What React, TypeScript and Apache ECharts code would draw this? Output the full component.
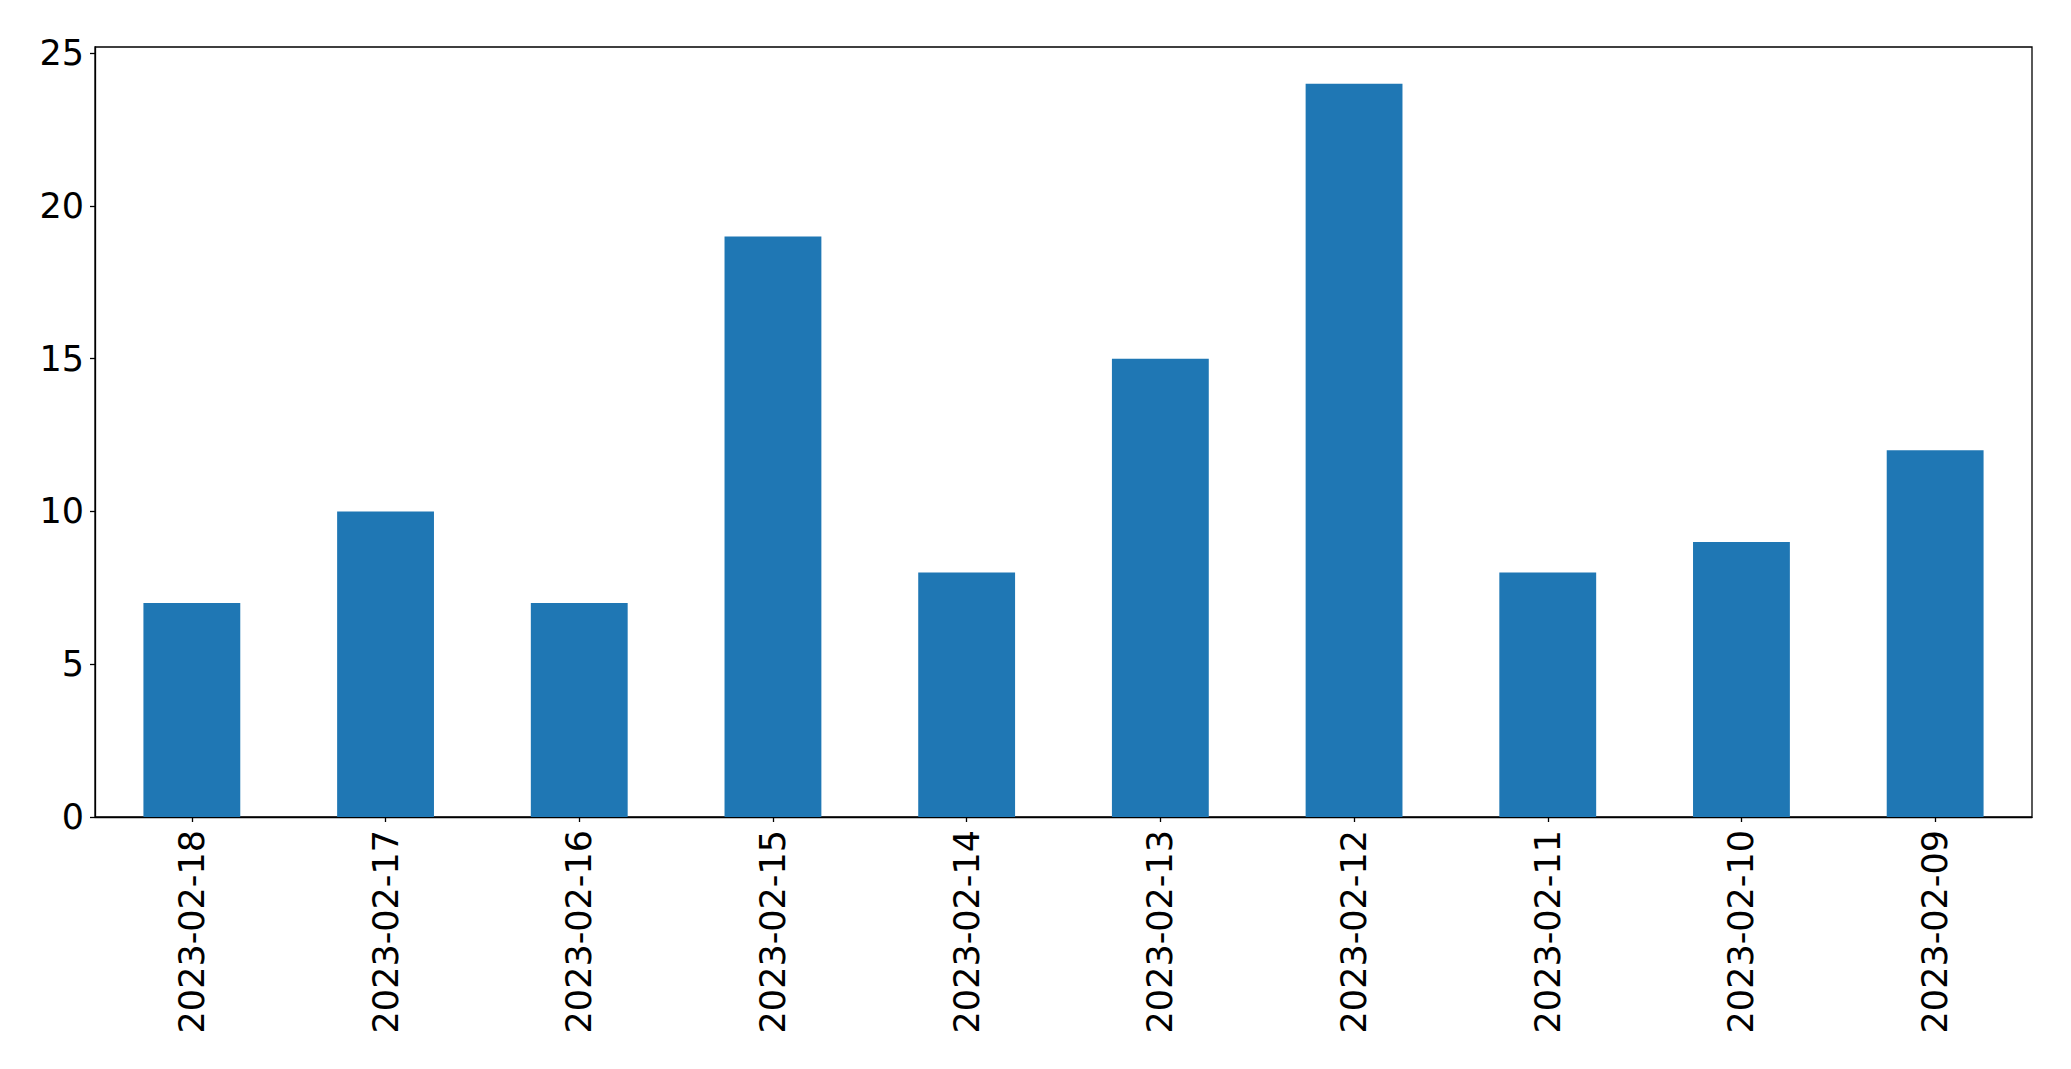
import React, { useEffect, useRef } from "react";
import * as echarts from "echarts";

const categories = [
  "2023-02-18",
  "2023-02-17",
  "2023-02-16",
  "2023-02-15",
  "2023-02-14",
  "2023-02-13",
  "2023-02-12",
  "2023-02-11",
  "2023-02-10",
  "2023-02-09",
];
const values = [7, 10, 7, 19, 8, 15, 24, 8, 9, 12];
const yTicks = [0, 5, 10, 15, 20, 25];
const yMax = 25.2;

export default function App() {
  const ref = useRef<HTMLDivElement>(null);
  useEffect(() => {
    document.body.style.margin = "0";
    const chart = echarts.init(ref.current!, undefined, { renderer: "svg" });
    const font = "DejaVu Sans";
    chart.setOption({
      animation: false,
      backgroundColor: "#ffffff",
      grid: {
        left: 95,
        top: 47,
        right: 39,
        bottom: 252,
        show: true,
        borderColor: "#000000",
        borderWidth: 1.3,
        backgroundColor: "transparent",
        containLabel: false,
      },
      xAxis: {
        type: "category",
        data: categories,
        boundaryGap: true,
        axisLine: { show: true, lineStyle: { color: "#000000", width: 1.3 } },
        axisTick: { show: true, alignWithLabel: true, length: 5, lineStyle: { color: "#000000", width: 1.3 } },
        axisLabel: {
          rotate: 90,
          margin: 13,
          fontSize: 35,
          fontFamily: font,
          color: "#000000",
          interval: 0,
        },
        splitLine: { show: false },
      },
      yAxis: {
        type: "value",
        min: 0,
        max: yMax,
        axisLine: { show: true, lineStyle: { color: "#000000", width: 1.3 } },
        axisTick: { show: true, length: 5, customValues: yTicks, lineStyle: { color: "#000000", width: 1.3 } },
        axisLabel: {
          customValues: yTicks,
          margin: 11,
          fontSize: 35,
          fontFamily: font,
          color: "#000000",
        },
        splitLine: { show: false },
      },
      series: [
        {
          type: "bar",
          data: values,
          barWidth: "50%",
          itemStyle: { color: "#1f77b4" },
        },
      ],
    });
    return () => chart.dispose();
  }, []);
  return (
    <div
      ref={ref}
      style={{ position: "absolute", left: 0, top: 0, width: 2071, height: 1069 }}
    />
  );
}
